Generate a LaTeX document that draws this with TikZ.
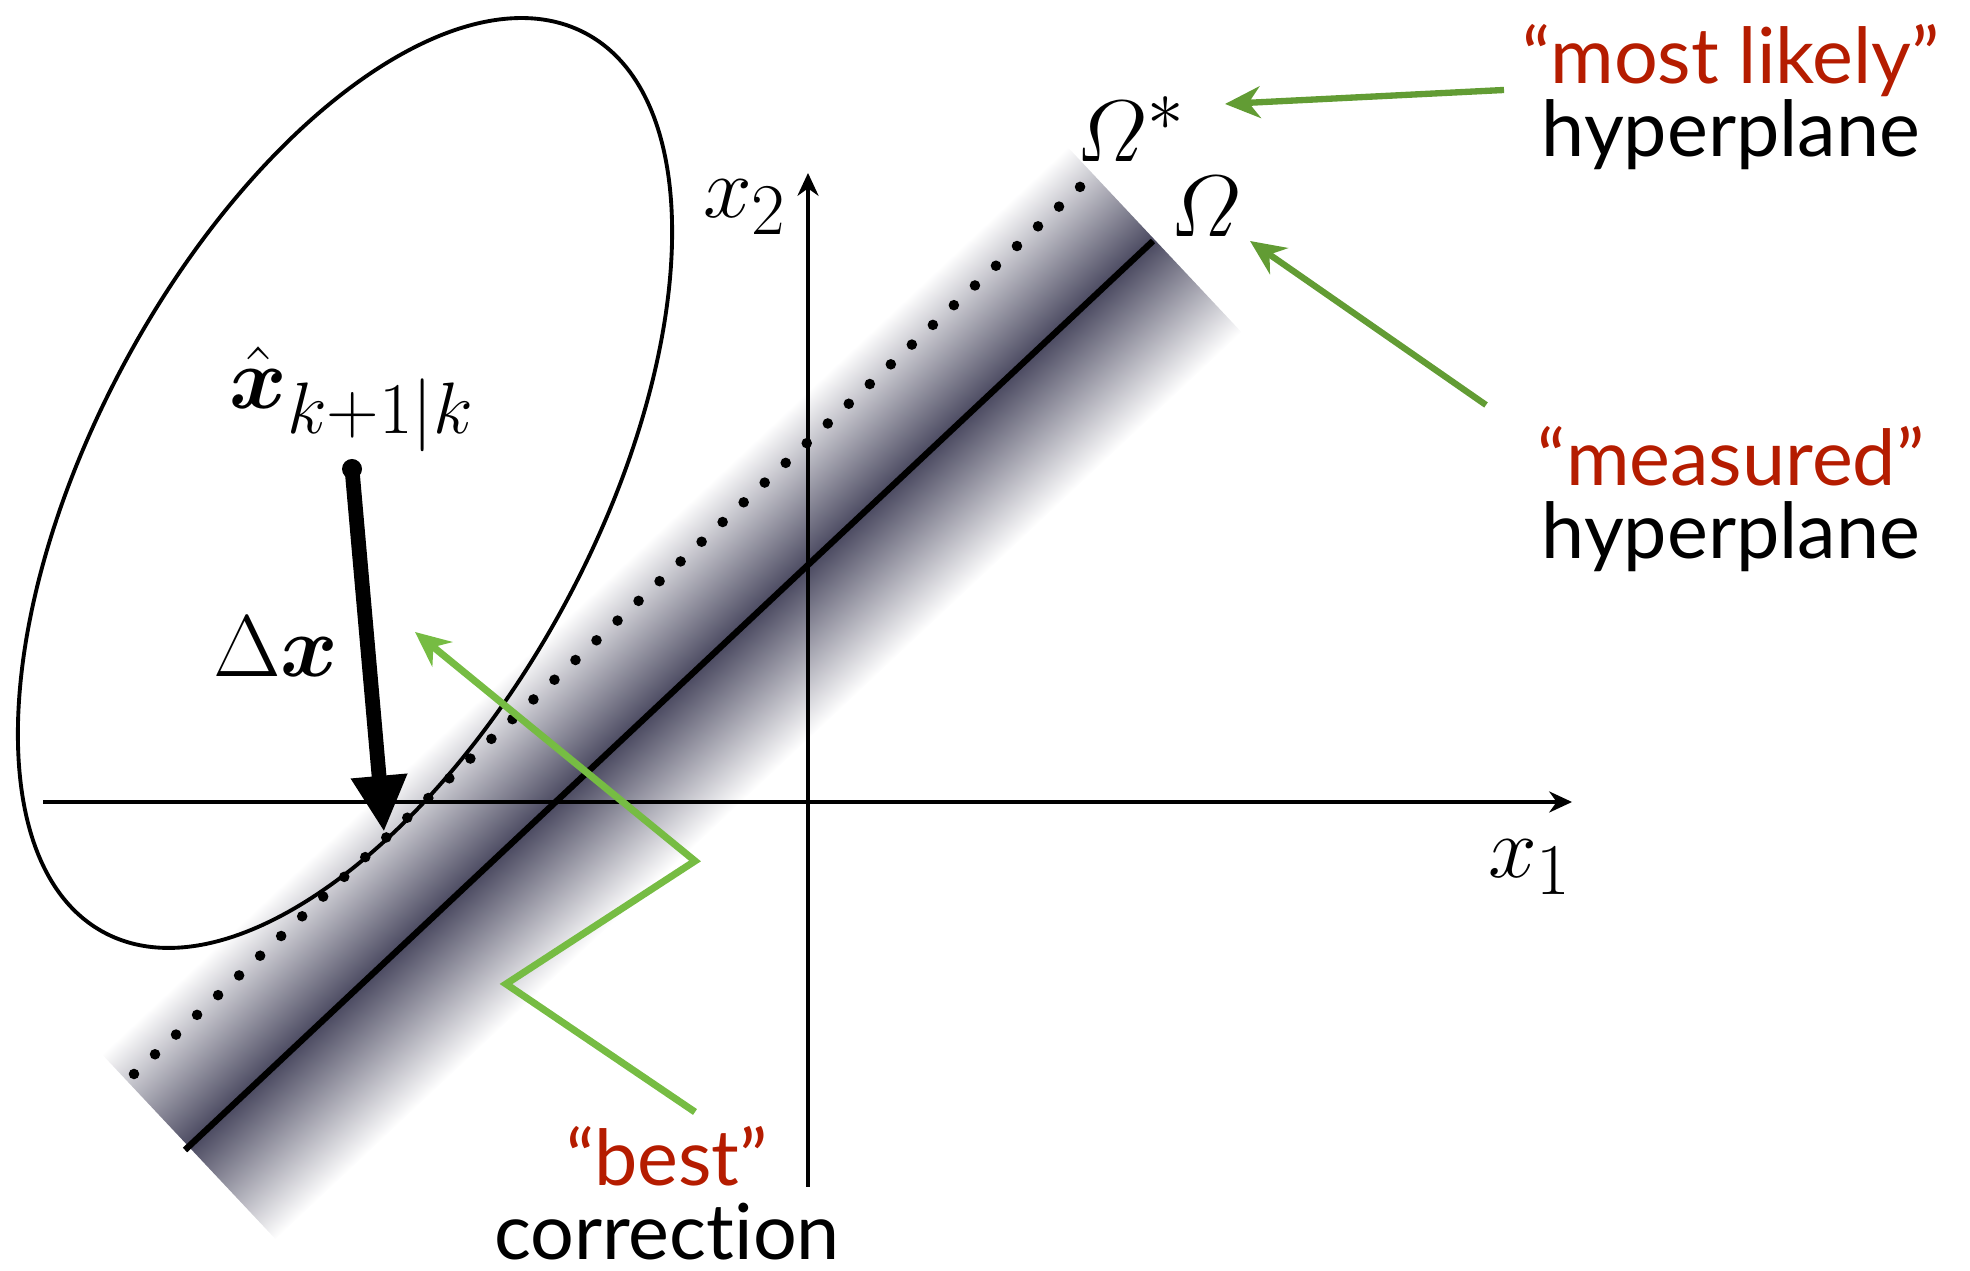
\documentclass[tikz,border=0pt]{standalone}
\usepackage{amsmath,amssymb}
\usepackage{fontspec}
\newfontfamily\gillfont[Ligatures={TeX,NoCommon}]{Lato}
\usetikzlibrary{arrows.meta, positioning, calc}
\definecolor{bandC}{RGB}{ 74,  73,  96}
\definecolor{redC} {RGB}{181,  28,   0}
\definecolor{ptrC} {RGB}{ 98, 156,  52}
\definecolor{zigC} {RGB}{118, 188,  67}
\tikzset{
  axis/.style    = {-{Stealth[length=6.5pt, width=6pt]}, line width=0.95pt},
  plane/.style   = {line width=1.8pt},
  mlplane/.style = {line width=3pt, line cap=round, dash pattern=on 0pt off 8.2pt},
  corr/.style    = {-{Triangle[length=16pt, width=15pt]}, line width=4.2pt},
  pointer/.style = {-{Stealth[length=10pt, width=9pt]}, line width=1.8pt, color=ptrC},
  zig/.style     = {-{Stealth[length=10pt, width=9pt]}, line width=2pt, color=zigC},
  lbl/.style     = {font=\gillfont\fontsize{22}{21}\selectfont, align=center, inner sep=0pt},
  mlbl/.style    = {font=\Huge, inner sep=0pt},
}

\begin{document}
\begin{tikzpicture}
\useasboundingbox (0,0) rectangle (19.70,12.71);

% ---- Measured hyperplane with its uncertainty band ---------------------------
% band: 13.3 cm along the plane, +-1.27 cm across it
\def\ang{43.2}
\begin{scope}[transform canvas={shift={(1.85,1.21)}, rotate=\ang}]
  \shade[top color=white, bottom color=white, middle color=bandC]
    (0.05,-1.27) rectangle (13.3,1.27);
\end{scope}

% Covariance ellipse of the prediction
\draw[line width=1.1pt, rotate around={61.8:(3.45,7.88)}]
  (3.45,7.88) ellipse (5.10 and 2.51);

% Axes
\node[mlbl] (x1lbl) at (15.30,4.04) {$x_1$};
\node[mlbl] (x2lbl) at (7.45,10.64) {$x_2$};
\draw[axis] (0.43,4.69) -- (15.72,4.69);
\draw[axis] (8.08,0.84) -- (8.08,10.98);

% Omega (solid) and Omega* (dotted)
\draw[plane]   (1.85,1.21) -- (11.53,10.30);
\draw[mlplane] (1.34,1.97) -- (10.97,11.00);
\node[mlbl] (omstar) at (11.31,11.42) {$\varOmega^*$};
\node[mlbl] (om)     at (12.06,10.64) {$\varOmega$};

% ---- Correction step ----------------------------------------------------------
\coordinate (xhat) at (3.52,8.02);
\coordinate (xnew) at (3.84,4.39);
\draw[corr] (xhat) -- (xnew);
\fill (xhat) circle (0.1);
\node[mlbl] (xhatlbl) at (3.52,8.72) {$\hat{\boldsymbol{x}}_{k+1|k}$};
\node[mlbl] (dx)      at (2.76,6.24) {$\Delta\boldsymbol{x}$};

% ---- Annotations --------------------------------------------------------------
% (anchor=base sits on the second line)
\node[lbl, anchor=base] (likely) at (17.31,11.14)
  {\textcolor{redC}{“most likely”}\\hyperplane};
\node[lbl, anchor=base] (measured) at (17.31,7.12)
  {\textcolor{redC}{“measured”}\\hyperplane};
\node[lbl, anchor=base] (best) at (6.67,0.12)
  {\textcolor{redC}{“best”}\\correction};

\coordinate (likelyend)   at (15.04,11.81);
\coordinate (likelytip)   at (12.25,11.67);
\coordinate (measuredend) at (14.86,8.66);
\coordinate (measuredtip) at (12.50,10.30);
\draw[pointer] (likelyend) -- (likelytip);
\draw[pointer] (measuredend) -- (measuredtip);

\coordinate (bestend) at (6.95,1.59);
\coordinate (besttip) at (4.15,6.39);
\draw[zig] (bestend) -- (5.06,2.87) -- (6.95,4.10) -- (besttip);

\end{tikzpicture}
\end{document}
